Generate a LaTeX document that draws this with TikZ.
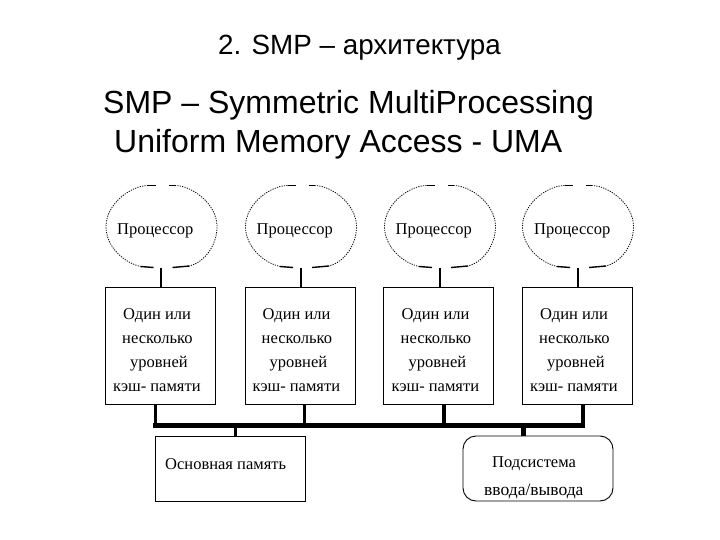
\documentclass[tikz,border=0pt]{standalone}
\usepackage{fontspec}
\setmainfont{Liberation Sans}
\newfontfamily\diagfont{Liberation Serif}
\usetikzlibrary{shapes.geometric}
\tikzset{
  title/.style={font=\fontsize{27.8}{28}\selectfont,anchor=base west,inner sep=0pt},
  head/.style={font=\fontsize{32}{32}\selectfont,anchor=base west,inner sep=0pt},
  lab/.style={font=\diagfont\fontsize{16.5}{16.5}\selectfont,inner sep=0pt,anchor=base west},
  labwide/.style={font=\diagfont\fontsize{17.5}{17.5}\selectfont,inner sep=0pt,anchor=base west},
  cachebox/.style={draw,line width=1pt,minimum width=110pt,minimum height=117pt,inner sep=0pt},
  cpu/.style={ellipse,minimum width=111pt,minimum height=83pt,inner sep=0pt},
  dots/.style={line width=.8pt,dash pattern=on 1.2pt off 1.2pt},
  solidbit/.style={line width=1.4pt},
  link/.style={line width=2.6pt},
  bus/.style={line width=5pt}
}
\begin{document}
\begin{tikzpicture}[x=1pt,y=-1pt]
\useasboundingbox (0,0) rectangle (720,540);
\fill[white] (0,0) rectangle (720,540);
\node[title] (t) at (218,55) {2. SMP – архитектура};
\node[head] (h1) at (103,114) {SMP – Symmetric MultiProcessing};
\node[head] (h2) at (114,153) {Uniform Memory Access - UMA};
\foreach \i/\bx/\ex/\lx/\fx/\fw/\dd in {1/160.5/161.5/161/155/3/0,2/300/301/301/304/3/139.5,3/438.5/440/440/444/4/278.5,4/577/578/578/583/4.4/417}{
  \node[cpu] (e\i) at (\ex,226.5) {};
  \begin{scope}[shift={(e\i.center)}]
    \draw[dots] (13.5,-41) .. controls (30,-41) and (55.5,-23) .. (55.5,0)
                .. controls (55.5,20) and (42,36) .. (28,39.5);
    \draw[dots] (-13.5,-41) .. controls (-30,-41) and (-55.5,-23) .. (-55.5,0)
                .. controls (-55.5,20) and (-38,36) .. (-21,40);
    \draw[solidbit] (-13.5,-41) -- (-5.5,-41);
    \draw[solidbit] (7.5,-41) -- (13.5,-41);
    \draw[solidbit] (-21,40) -- (-8,41);
    \draw[solidbit] (11,41) -- (28,39.5);
  \end{scope}
  \node[cachebox] (b\i) at (\bx,345.5) {};
  \coordinate (cl\i) at (\lx,0);
  \coordinate (fd\i) at (\fx,425);
  \draw[link] (e\i.south -| cl\i) -- (b\i.north -| cl\i);
  \draw[line width=\fw pt] (b\i.south -| fd\i) -- (fd\i);
  \node[lab] (p\i) at (117+\dd,235) {Процессор};
  \node[lab] (o\i) at (123+\dd,319) {Один или};
  \node[lab] (n\i) at (122+\dd,343) {несколько};
  \node[lab] (u\i) at (130+\dd,367) {уровней};
  \node[lab] (k\i) at (113+\dd,391) {кэш- памяти};
}
\draw[bus] ([xshift=-2pt]fd1) -- ([xshift=2pt]fd4);
\node[draw,line width=1pt,minimum width=150pt,minimum height=65pt,inner sep=0pt] (mem) at (230,468.5) {};
\node[lab] (memt) at (165,469) {Основная память};
\node[draw,line width=.9pt,rounded corners=13pt,minimum width=150pt,minimum height=65pt,inner sep=0pt] (io) at (538,468.5) {};
\node[lab] (io1) at (492,467) {Подсистема};
\node[labwide] (io2) at (484,495) {ввода/вывода};
\coordinate (mx) at (235.5,425);
\coordinate (ix) at (523,425);
\draw[link] (mx) -- (mem.north -| mx);
\draw[line width=5pt] (ix) -- (io.north -| ix);
\end{tikzpicture}
\end{document}
